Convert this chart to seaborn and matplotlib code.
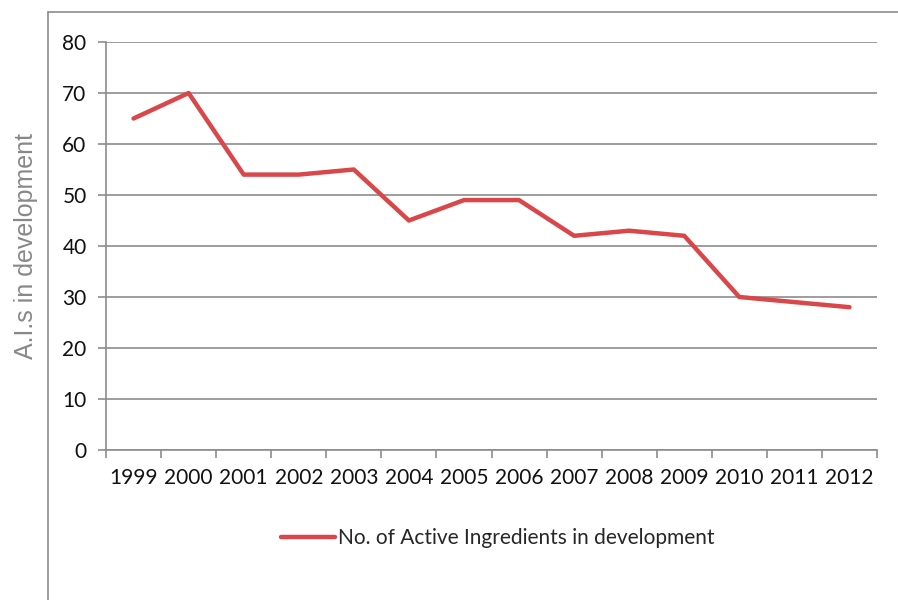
import matplotlib
matplotlib.use("Agg")
import matplotlib.pyplot as plt
from matplotlib.lines import Line2D
import seaborn as sns, pandas as pd

years = ["1999", "2000", "2001", "2002", "2003", "2004", "2005",
         "2006", "2007", "2008", "2009", "2010", "2011", "2012"]
ais = [65, 70, 54, 54, 55, 45, 49, 49, 42, 43, 42, 30, 29, 28]
series_name = "No. of Active Ingredients in development"
ylabel = "A.I.s in development"

df = pd.DataFrame({"Year": years, "AIs": ais})
df["pos"] = range(len(df))

sns.set_style("white")
plt.rcParams['font.family'] = ['Lato', 'DejaVu Sans']

fig = plt.figure(figsize=(8.98, 6), dpi=100)
ax = fig.add_axes([106/898, 1-450/600, (877-106)/898, (450-42)/600])

sns.lineplot(data=df, x="pos", y="AIs", ax=ax, color="#d9474a", lw=3.2,
             label=series_name, legend=False)

ax.set_ylim(0, 80)
ax.set_yticks(range(0, 81, 10))
ax.set_xlim(-0.5, len(years) - 0.5)
ax.set_xticks(range(len(years)))
ax.set_xticklabels(years)
ax.set_xticks([i - 0.5 for i in range(len(years) + 1)], minor=True)
ax.tick_params(axis="x", which="both", bottom=True)
ax.tick_params(axis="y", left=True)
ax.tick_params(axis="x", which="major", length=0, pad=13, labelsize=15, colors="#111111")
ax.tick_params(axis="x", which="minor", length=6, width=1.2, color="#8c8c8c", direction="out")
ax.tick_params(axis="y", length=6, width=1.2, color="#8c8c8c", labelsize=15,
               labelcolor="#111111", pad=8)
ax.grid(axis="y", color="#8c8c8c", lw=1.2)
ax.set_axisbelow(True)
for s in ["top", "right"]:
    ax.spines[s].set_visible(False)
for s in ["left", "bottom"]:
    ax.spines[s].set_color("#8c8c8c")
    ax.spines[s].set_linewidth(1.2)
ax.set_xlabel("")
ax.set_ylabel(ylabel, fontsize=18, color="#888888", family=["Liberation Sans"])
ax.yaxis.set_label_coords(-68/771, 0.5)

# outer chart frame (top and left edges)
fig.add_artist(Line2D([48/898, 1], [1-12/600, 1-12/600], color="#8c8c8c", lw=1.2))
fig.add_artist(Line2D([48/898, 48/898], [0, 1-12/600], color="#8c8c8c", lw=1.2))

h, l = ax.get_legend_handles_labels()
fig.legend(h, l, loc="center", bbox_to_anchor=(498/898, 1-538/600), frameon=False,
           fontsize=15, handlelength=2.6, handletextpad=0.15)

fig.savefig("out.png", dpi=100)
